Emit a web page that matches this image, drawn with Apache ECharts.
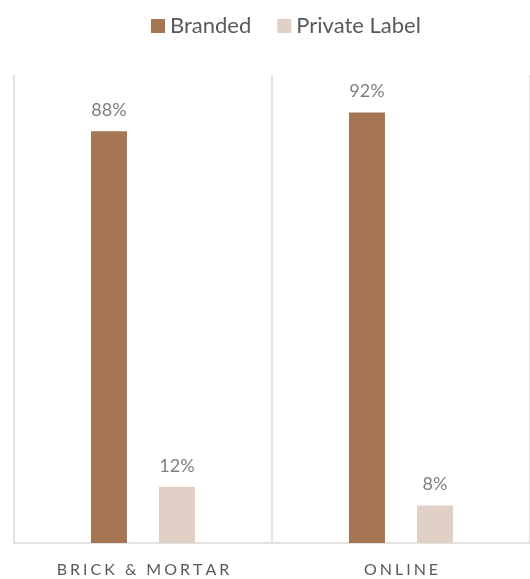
<!DOCTYPE html>
<html>
<head>
<meta charset="utf-8">
<script src="https://cdn.jsdelivr.net/npm/echarts@6/dist/echarts.min.js"></script>
<style>
  html, body { margin: 0; padding: 0; background: #fff; }
  #chart { width: 530px; height: 579px; }
</style>
</head>
<body>
<div id="chart"></div>
<script>
// data
const categories = ['BRICK & MORTAR', 'ONLINE'];
const branded = [88, 92];
const privateLabel = [12, 8];

const myChart = echarts.init(document.getElementById('chart'));

// spread the letters a bit like the original axis labels
const spaced = (s) => s.split('').join('\u2009\u200A');

const labelStyle = {
  show: true,
  position: 'top',
  distance: 12,
  color: '#7f7f7f',
  fontSize: 18,
  fontFamily: 'Lato',
  formatter: '{c}%'
};

myChart.setOption({
  animation: false,
  textStyle: { fontFamily: 'Lato' },
  legend: {
    top: 10,
    left: 146,
    itemWidth: 14,
    itemHeight: 14,
    itemGap: 26,
    icon: 'rect',
    textStyle: { color: '#595959', fontSize: 22, fontFamily: 'Lato' },
    data: ['Branded', 'Private Label']
  },
  grid: { left: 14, right: 0, top: 75, bottom: 36 },
  xAxis: {
    type: 'category',
    data: categories,
    axisLine: { lineStyle: { color: '#d9d9d9', width: 1.5 } },
    axisTick: { show: false },
    splitLine: { show: true, lineStyle: { color: '#d9d9d9', width: 1.5 } },
    axisLabel: {
      color: '#595959',
      fontSize: 16,
      margin: 19,
      fontFamily: 'Lato',
      formatter: (v) => spaced(v)
    }
  },
  yAxis: {
    type: 'value',
    min: 0,
    max: 100,
    show: false,
    splitLine: { show: false }
  },
  series: [
    {
      name: 'Branded',
      type: 'bar',
      data: branded,
      barWidth: 36,
      barGap: '89%',
      itemStyle: { color: '#a67554' },
      label: labelStyle
    },
    {
      name: 'Private Label',
      type: 'bar',
      data: privateLabel,
      barWidth: 36,
      itemStyle: { color: '#e0d0c5' },
      label: labelStyle
    }
  ]
});
</script>
</body>
</html>
